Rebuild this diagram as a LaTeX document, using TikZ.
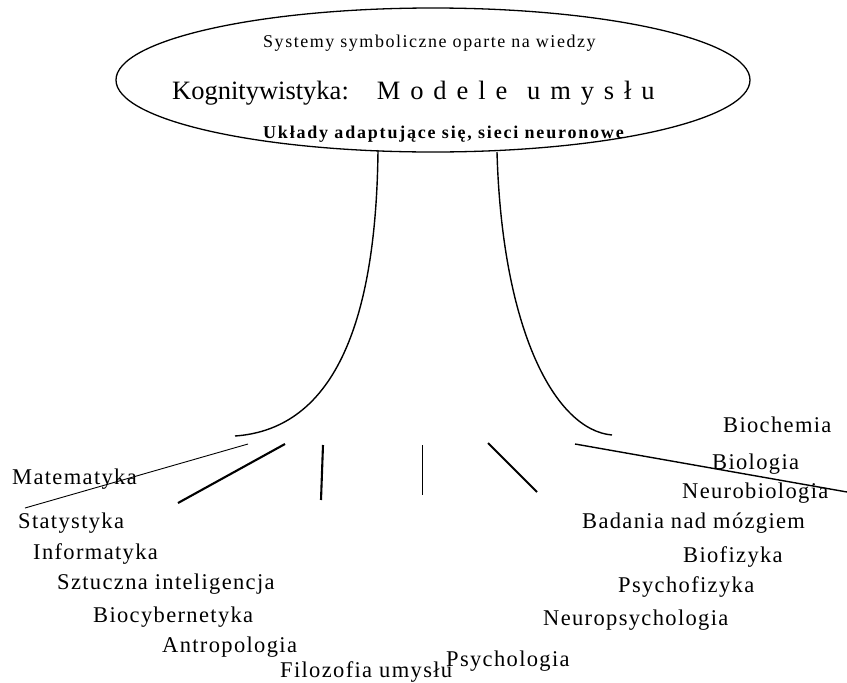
\documentclass[tikz,border=0pt]{standalone}
\usepackage{fontspec}
\setmainfont{Liberation Serif}
\newfontfamily\lsfont[LetterSpace=8.5]{Liberation Serif}
\newfontfamily\lblfont[LetterSpace=6]{Liberation Serif}
\newfontfamily\lsbfont[LetterSpace=10]{Liberation Serif}
\usetikzlibrary{shapes.geometric}
\begin{document}
\begin{tikzpicture}[x=1pt,y=-1pt,
  lbl/.style={anchor=base west, inner sep=0pt, font=\lblfont\fontsize{22.5}{26}\selectfont},
  ttl/.style={anchor=base west, inner sep=0pt},
  thinline/.style={line width=0.9pt},
  midline/.style={line width=1.4pt},
  thickline/.style={line width=2.1pt}]
\useasboundingbox (0,0) rectangle (847,683);
% ellipse with texts
\node[draw, ellipse, line width=1.3pt, minimum width=634pt, minimum height=144pt, inner sep=0pt] (el) at (433,80) {};
\node[ttl, font=\lsfont\fontsize{18}{22}\selectfont] (sys) at (263,47) {Systemy symboliczne oparte na wiedzy};
\node[ttl, font=\fontsize{26.5}{30}\selectfont] (kog) at (172,99) {Kognitywistyka:\hskip28pt{\spaceskip=9.9pt M o d e l e\hskip19.8pt u m y s ł u}};
\node[ttl, font=\lsbfont\bfseries\fontsize{18}{22}\selectfont] (ukl) at (263,138) {Układy adaptujące się, sieci neuronowe};
% labels
\node[lbl] (mat) at (12,484) {Matematyka};
\node[lbl] (sta) at (18,528) {Statystyka};
\node[lbl] (inf) at (33,559) {Informatyka};
\node[lbl] (szi) at (57,589) {Sztuczna inteligencja};
\node[lbl] (bcy) at (93,622) {Biocybernetyka};
\node[lbl] (ant) at (162,652) {Antropologia};
\node[lbl] (fil) at (280,677) {Filozofia umysłu};
\node[lbl] (psy) at (446,666) {Psychologia};
\node[lbl] (npy) at (543,625) {Neuropsychologia};
\node[lbl] (pfz) at (618,592) {Psychofizyka};
\node[lbl] (bfz) at (683,562) {Biofizyka};
\node[lbl] (bad) at (582,528) {Badania nad mózgiem};
\node[lbl] (nbi) at (682,498) {Neurobiologia};
\node[lbl] (bio) at (712,469) {Biologia};
\node[lbl] (bch) at (723,432) {Biochemia};
% trunk
\coordinate (lt) at (378,150);
\coordinate (lb) at (235,436);
\coordinate (rt) at (497,152);
\coordinate (rb) at (612,435);
\draw[midline] (lt) .. controls (376,350) and (320,430) .. (lb);
\draw[midline] (rt) .. controls (502,330) and (555,430) .. (rb);
% spokes
\coordinate (s1a) at (248,444); \coordinate (s1b) at (25,508);
\coordinate (s2a) at (285,444); \coordinate (s2b) at (178,503);
\coordinate (s3a) at (323,445); \coordinate (s3b) at (321,500);
\coordinate (s4a) at (422,445); \coordinate (s4b) at (422,495);
\coordinate (s5a) at (488,443); \coordinate (s5b) at (537,492);
\coordinate (s6a) at (575,444); \coordinate (s6b) at (847,492);
\draw[thinline] (s1a) -- (s1b);
\draw[thickline] (s2a) -- (s2b);
\draw[thickline] (s3a) -- (s3b);
\draw[thinline] (s4a) -- (s4b);
\draw[thickline] (s5a) -- (s5b);
\draw[midline] (s6a) -- (s6b);
\end{tikzpicture}
\end{document}
